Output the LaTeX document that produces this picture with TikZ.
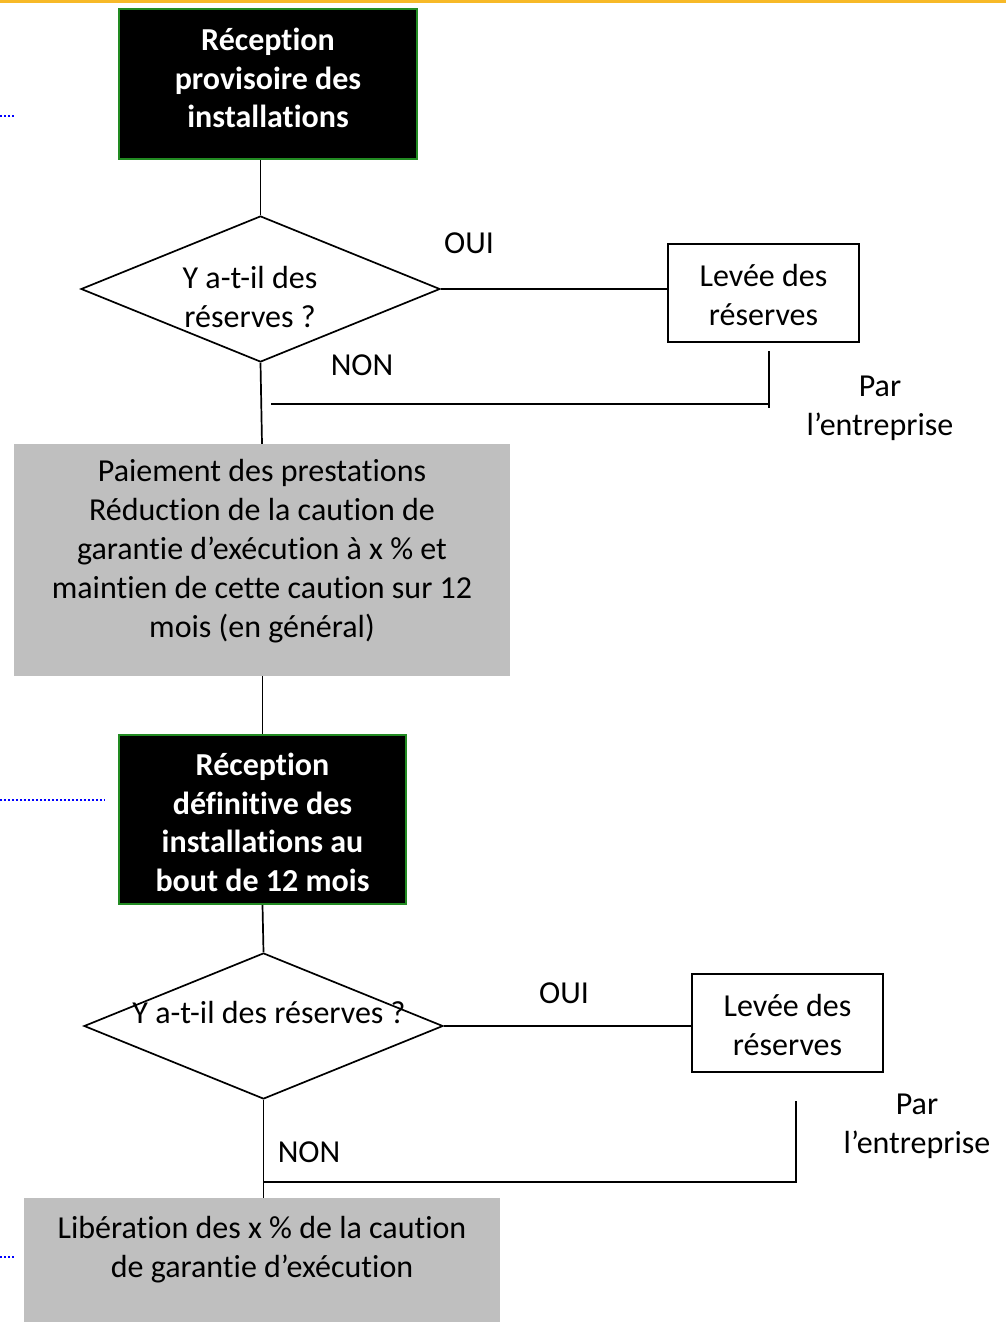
\documentclass[tikz,border=0pt]{standalone}
\usepackage{fontspec}
\setmainfont[Ligatures=NoCommon]{Carlito}
\usetikzlibrary{shapes.geometric}
\definecolor{boxgreen}{RGB}{34,139,34}
\definecolor{boxgray}{RGB}{191,191,191}
\definecolor{topline}{RGB}{247,185,40}
\tikzset{
  txt/.style={font=\fontsize{32}{39}\selectfont, align=center, inner sep=0pt},
  boldtxt/.style={txt, text=white, font=\bfseries\fontsize{32}{38.5}\selectfont},
  blackbox/.style={draw=boxgreen, line width=2pt, fill=black, inner sep=0pt},
  graybox/.style={fill=boxgray, draw=none, inner sep=0pt},
  whitebox/.style={draw, line width=1.7pt, fill=white, txt,
    minimum width=191pt, minimum height=98pt},
  decision/.style={diamond, draw, line width=1.7pt, inner sep=0pt,
    minimum width=359pt, minimum height=146pt},
  conn/.style={line width=1.7pt},
  bluedots/.style={blue, line width=2.5pt, dash pattern=on 1.8pt off 2.2pt}
}
\begin{document}
\begin{tikzpicture}[x=1pt,y=-1pt]
\useasboundingbox (0,0) rectangle (1006,1322);
\fill[topline] (0,0) rectangle (1006,3.5);

% first stage
\node[blackbox, minimum width=298pt, minimum height=150pt] (b1) at (268,84) {};
\node[boldtxt] (b1t) at (268,78) {Réception\\provisoire des\\installations};
\node[decision] (d1) at (260.5,289) {};
\node[txt] (d1t) at (250,297) {Y a-t-il des\\réserves ?};
\node[whitebox] (l1) at (763.5,293) {};
\node[txt] (l1t) at (763.5,295) {Levée des\\réserves};
\node[graybox, minimum width=496pt, minimum height=232pt] (g1) at (262,560) {};
\node[txt] (g1t) at (262,551) {Paiement des prestations\\Réduction de la caution de\\garantie d’exécution à x \% et\\maintien de cette caution sur 12\\mois (en général)};
\node[txt] (oui1) at (469,243) {OUI};
\node[txt] (non1) at (362,365) {NON};
\node[txt] (par1) at (880,408) {Par\\l’entreprise};

\draw[conn] (d1.north) -- (d1.north |- b1.south);
\draw[conn] (d1.east) -- (d1.east -| l1.west);
\draw[conn] (d1.south) -- (g1.north);
\coordinate (r1a) at (769,351);
\coordinate (r1b) at (769,408);
\coordinate (r1c) at (271,404);
\draw[conn] (r1a) -- (r1b);
\draw[conn] (r1c) -- (r1c -| r1a);

% second stage
\node[blackbox, minimum width=287pt, minimum height=169pt] (b2) at (262.5,819.5) {};
\node[boldtxt] (b2t) at (262.5,822.5) {Réception\\définitive des\\installations au\\bout de 12 mois};
\node[decision] (d2) at (263.5,1026) {};
\node[txt] (d2t) at (269,1012) {Y a-t-il des réserves ?};
\node[whitebox] (l2) at (787.5,1023) {};
\node[txt] (l2t) at (787.5,1025) {Levée des\\réserves};
\node[graybox, minimum width=476pt, minimum height=124pt] (g2) at (262,1260) {};
\node[txt] (g2t) at (262,1250) {Libération des x \% de la caution\\de garantie d’exécution};
\node[txt] (oui2) at (564,993) {OUI};
\node[txt] (non2) at (309,1152) {NON};
\node[txt] (par2) at (917,1126) {Par\\l’entreprise};

\draw[conn] (g1.south -| b2.north) -- (b2.north);
\draw[conn] (b2.south) -- (d2.north);
\draw[conn] (d2.east) -- (d2.east -| l2.west);
\draw[conn] (d2.south) -- (d2.south |- g2.north);
\coordinate (r2a) at (796,1101);
\coordinate (r2b) at (796,1182);
\draw[conn] (r2a) -- (r2b) -- (r2b -| d2.south);

% blue dotted marks
\coordinate (p1) at (0,116);
\coordinate (q1) at (15,116);
\coordinate (p2) at (0,800);
\coordinate (q2) at (105,800);
\coordinate (p3) at (0,1257);
\coordinate (q3) at (15,1257);
\draw[bluedots] (p1) -- (q1);
\draw[bluedots] (p2) -- (q2);
\draw[bluedots] (p3) -- (q3);
\end{tikzpicture}
\end{document}
